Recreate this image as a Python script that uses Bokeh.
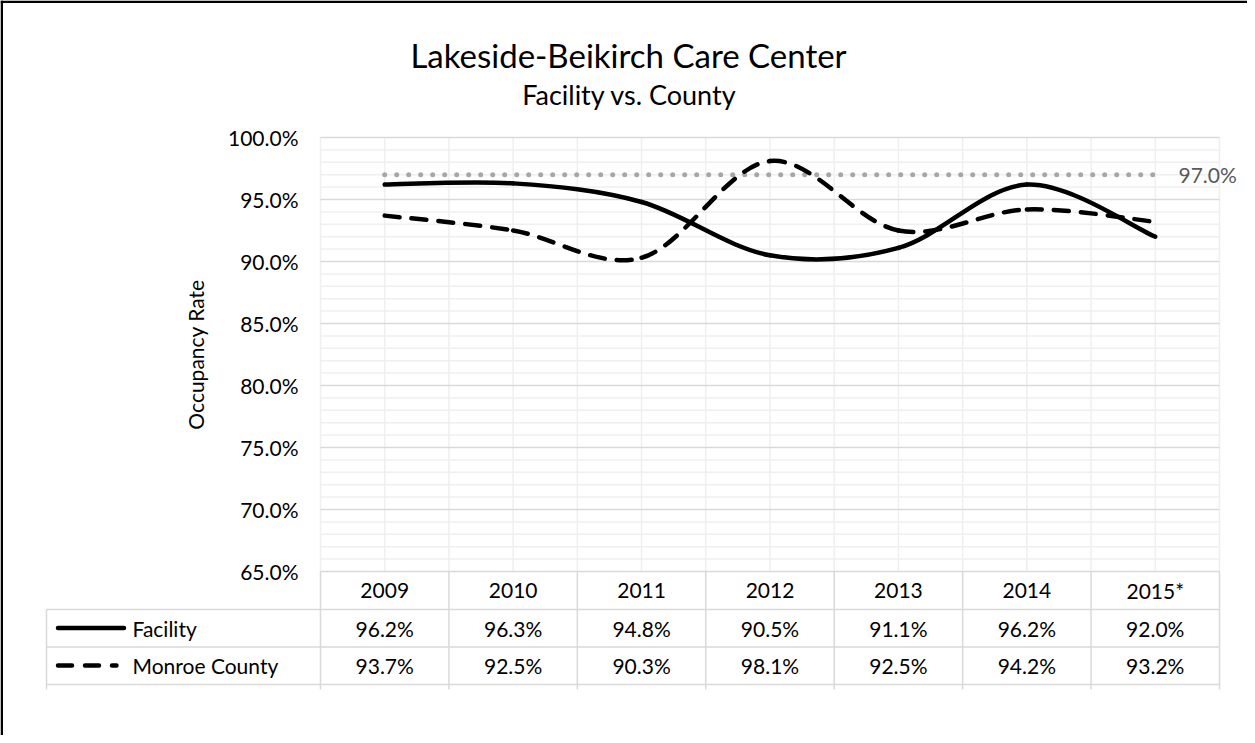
from bokeh.plotting import figure
from bokeh.models import Range1d, LinearAxis, FixedTicker, PrintfTickFormatter, ColumnDataSource
from bokeh.core.properties import value
from bokeh.embed import file_html
from bokeh.resources import INLINE

# ---------------- data ----------------
years = ["2009", "2010", "2011", "2012", "2013", "2014", "2015*"]
facility = [96.2, 96.3, 94.8, 90.5, 91.1, 96.2, 92.0]
county = [93.7, 92.5, 90.3, 98.1, 92.5, 94.2, 93.2]
target = 97.0
series_names = ["Facility", "Monroe County"]
y_ticks = [65, 70, 75, 80, 85, 90, 95, 100]
title_text = "Lakeside-Beikirch Care Center"
subtitle_text = "Facility vs. County"
y_label = "Occupancy Rate"

# ---------------- geometry helpers (reference pixels -> data) ----------------
W, H = 1247, 735
PAGE = 8
CX0 = 392.2      # px of first category centre
CW = 128.43      # px per category
Y100 = 145.0     # px of 100 %
PPU = 12.4       # px per percentage point


def X(px):
    return (px - CX0) / CW


def Y(py):
    return 100 - (py - Y100) / PPU


FONT = "Lato"
n = len(years)
ymin, ymax = y_ticks[0], y_ticks[-1]

p = figure(width=W, height=H, x_range=Range1d(X(PAGE), X(PAGE + W)),
           y_range=Range1d(Y(PAGE + H), Y(PAGE)),
           x_axis_type=None, y_axis_type=None, title=None,
           toolbar_location=None, output_backend="svg", min_border=0)
p.outline_line_color = None
p.background_fill_color = "white"
p.border_fill_color = "white"

# ---------------- gridlines ----------------
minor_y = [v for v in range(ymin, ymax + 1) if v not in y_ticks]
p.segment(x0=-0.5, x1=n - 0.5, y0=minor_y, y1=minor_y, line_color="#efefef", line_width=1.5)
vx = [i * 0.5 - 0.5 for i in range(2 * n + 1)]
p.segment(x0=vx, x1=vx, y0=ymin, y1=ymax, line_color="#efefef", line_width=1.5)
p.segment(x0=-0.5, x1=n - 0.5, y0=y_ticks[1:], y1=y_ticks[1:], line_color="#d9d9d9", line_width=1.5)

# ---------------- target line ----------------
p.line(x=[0, n - 1], y=[target, target], line_color="#a6a6a6", line_width=5,
       line_dash="0 12", line_cap="round")
p.text(x=[X(1186)], y=[target], text=[f"{target:.1f}%"], text_font=value(FONT),
       text_font_size="21px", text_color="#595959", text_align="left", text_baseline="middle")


# ---------------- smoothed series ----------------
def bezier_source(vals):
    m = len(vals)

    def P(i):
        i = max(0, min(m - 1, i))
        return float(i), vals[i]

    d = dict(x0=[], y0=[], x1=[], y1=[], cx0=[], cy0=[], cx1=[], cy1=[])
    for i in range(m - 1):
        p0, p1, p2, p3 = P(i - 1), P(i), P(i + 1), P(i + 2)
        d["x0"].append(p1[0]); d["y0"].append(p1[1])
        d["x1"].append(p2[0]); d["y1"].append(p2[1])
        d["cx0"].append(p1[0] + (p2[0] - p0[0]) / 6); d["cy0"].append(p1[1] + (p2[1] - p0[1]) / 6)
        d["cx1"].append(p2[0] - (p3[0] - p1[0]) / 6); d["cy1"].append(p2[1] - (p3[1] - p1[1]) / 6)
    return ColumnDataSource(d)


bz = dict(x0="x0", y0="y0", x1="x1", y1="y1", cx0="cx0", cy0="cy0", cx1="cx1", cy1="cy1")
p.bezier(source=bezier_source(facility), line_color="black", line_width=4.5, line_cap="round", **bz)
p.bezier(source=bezier_source(county), line_color="black", line_width=4.5, line_cap="round",
         line_dash="15 12", **bz)

# ---------------- y axis ----------------
yaxis = LinearAxis(ticker=FixedTicker(ticks=y_ticks), formatter=PrintfTickFormatter(format="%.1f%%"),
                   fixed_location=-0.5, bounds=(ymin, ymax),
                   axis_line_color=None, major_tick_line_color=None, minor_tick_line_color=None,
                   major_tick_out=0, major_tick_in=0, major_label_standoff=22,
                   major_label_text_font=FONT, major_label_text_font_size="21px",
                   major_label_text_color="#000000",
                   axis_label=y_label, axis_label_standoff=17, axis_label_text_font=FONT,
                   axis_label_text_font_size="21px", axis_label_text_font_style="normal",
                   axis_label_text_color="#000000")
p.add_layout(yaxis, "left")

# ---------------- data table ----------------
row_lines = [Y(579), Y(617), Y(654.5), Y(692)]
left_edge = X(54)
grid_c = "#d9d9d9"
p.segment(x0=-0.5, x1=n - 0.5, y0=row_lines[0], y1=row_lines[0], line_color=grid_c, line_width=1.5)
p.segment(x0=left_edge, x1=n - 0.5, y0=row_lines[1:], y1=row_lines[1:], line_color=grid_c, line_width=1.5)
cols = [i - 0.5 for i in range(n + 1)]
p.segment(x0=cols, x1=cols, y0=row_lines[0], y1=Y(697), line_color=grid_c, line_width=1.5)
p.segment(x0=[left_edge], x1=[left_edge], y0=row_lines[1], y1=Y(697), line_color=grid_c, line_width=1.5)

row_y = [Y(598), Y(635.5), Y(673)]
xs = list(range(n))
p.text(x=xs, y=[row_y[0]] * n, text=years, text_font=value(FONT), text_font_size="21px",
       text_color="#000000", text_align="center", text_baseline="middle")
p.text(x=xs, y=[row_y[1]] * n, text=[f"{v:.1f}%" for v in facility], text_font=value(FONT),
       text_font_size="21px", text_color="#000000", text_align="center", text_baseline="middle")
p.text(x=xs, y=[row_y[2]] * n, text=[f"{v:.1f}%" for v in county], text_font=value(FONT),
       text_font_size="21px", text_color="#000000", text_align="center", text_baseline="middle")
p.text(x=[X(140)] * 2, y=row_y[1:], text=series_names, text_font=value(FONT), text_font_size="21px",
       text_color="#000000", text_align="left", text_baseline="middle")
p.line(x=[X(65.5), X(131.5)], y=[row_y[1]] * 2, line_color="black", line_width=4.5, line_cap="round")
p.line(x=[X(65.5), X(124)], y=[row_y[2]] * 2, line_color="black", line_width=4.5, line_cap="round",
       line_dash="14 13")

# ---------------- titles ----------------
p.text(x=[X(636)], y=[Y(62)], text=[title_text], text_font=value(FONT), text_font_size="33px",
       text_color="#000000", text_align="center", text_baseline="alphabetic")
p.text(x=[X(637)], y=[Y(102)], text=[subtitle_text], text_font=value(FONT), text_font_size="27px",
       text_color="#000000", text_align="center", text_baseline="alphabetic")

# ---------------- chart border (left / top visible) ----------------
p.segment(x0=[X(9.25), X(8)], x1=[X(9.25), X(PAGE + W)], y0=[Y(8), Y(9.25)], y1=[Y(PAGE + H), Y(9.25)],
          line_color="black", line_width=2.5)

open("out.html", "w").write(file_html(p, INLINE))
